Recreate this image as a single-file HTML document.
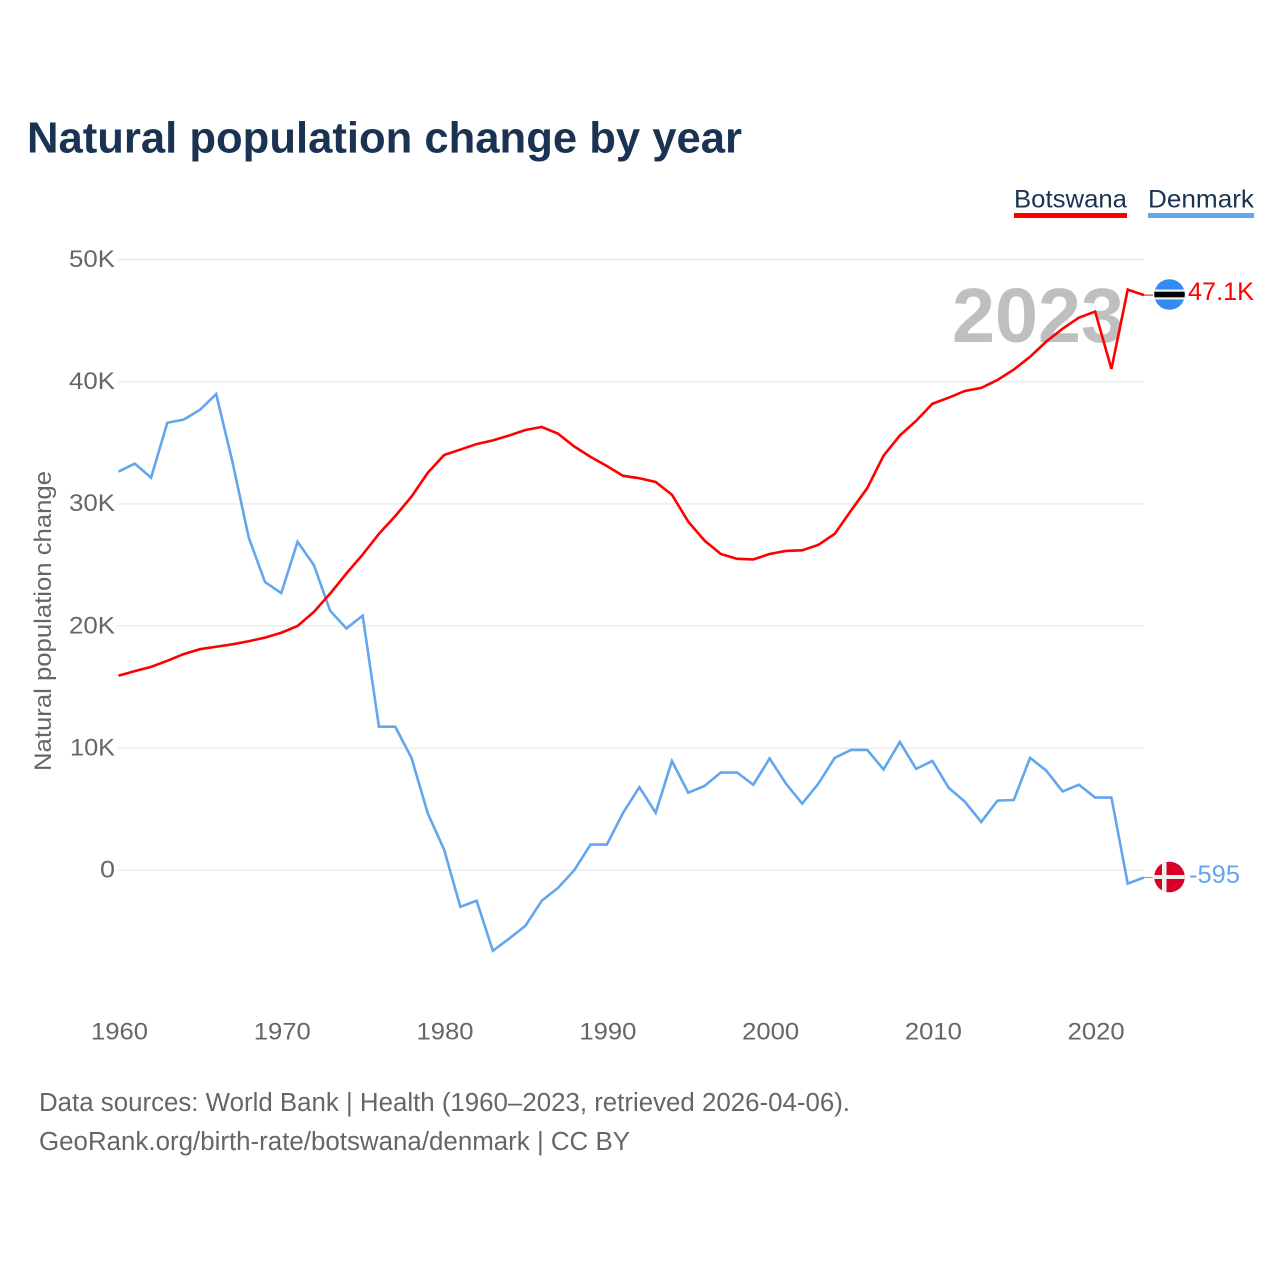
<!DOCTYPE html>
<html lang="en">
<head>
<meta charset="utf-8">
<title>Natural population change by year</title>
<style>
html,body{margin:0;padding:0;background:#fff;}
svg{display:block;font-family:"Liberation Sans",sans-serif;}
</style>
</head>
<body>
<svg id="chart" xmlns="http://www.w3.org/2000/svg" width="1280" height="1280" viewBox="0 0 1280 1280">
  <rect width="1280" height="1280" fill="#fff"/>
  <text x="27" y="152.5" font-size="44" font-weight="700" fill="#1a3352" textLength="715" lengthAdjust="spacingAndGlyphs">Natural population change by year</text>

  <g>
    <text x="1014" y="207.5" font-size="25" fill="#1a3352" textLength="113" lengthAdjust="spacingAndGlyphs">Botswana</text>
    <rect x="1014" y="213" width="113" height="5" fill="#ff0000"/>
  </g>
  <g>
    <text x="1148" y="207.5" font-size="25" fill="#1a3352" textLength="106" lengthAdjust="spacingAndGlyphs">Denmark</text>
    <rect x="1148" y="213" width="106" height="5" fill="#62a6ee"/>
  </g>

  <g id="grid"></g>
  <g id="yticks"></g>
  <g id="xticks"></g>

  <text transform="translate(51,621) rotate(-90)" text-anchor="middle" font-size="24" fill="#666" textLength="300" lengthAdjust="spacingAndGlyphs">Natural population change</text>

  <text x="952" y="342" font-size="77" font-weight="700" fill="#bfbfbf" textLength="172" lengthAdjust="spacingAndGlyphs">2023</text>

  <g id="series"></g>

  <g>
    <clipPath id="clip-bw"><circle cx="1169.5" cy="294.5" r="15.3"/></clipPath>
    <g clip-path="url(#clip-bw)">
      <rect x="1154" y="278" width="31" height="33" fill="#338af3"/>
      <rect x="1154" y="289.5" width="31" height="10" fill="#f0f0f0"/>
      <rect x="1154" y="291.7" width="31" height="5.6" fill="#000"/>
    </g>
  </g>
  <g>
    <clipPath id="clip-dk"><circle cx="1169.5" cy="877" r="15.3"/></clipPath>
    <g clip-path="url(#clip-dk)">
      <rect x="1154" y="861" width="31" height="32" fill="#d80027"/>
      <rect x="1154" y="875" width="31" height="4" fill="#f0f0f0"/>
      <rect x="1162" y="861" width="4.5" height="32" fill="#f0f0f0"/>
    </g>
  </g>

  <text x="1188" y="300" font-size="25" fill="#ff0000" textLength="66" lengthAdjust="spacingAndGlyphs">47.1K</text>
  <text x="1189" y="883" font-size="25" fill="#62a6ee" textLength="51" lengthAdjust="spacingAndGlyphs">-595</text>

  <text x="39" y="1111" font-size="25.5" fill="#666" textLength="811" lengthAdjust="spacingAndGlyphs">Data sources: World Bank | Health (1960–2023, retrieved 2026-04-06).</text>
  <text x="39" y="1150" font-size="25.5" fill="#666" textLength="591" lengthAdjust="spacingAndGlyphs">GeoRank.org/birth-rate/botswana/denmark | CC BY</text>
</svg>
<script>
const years = [1960,1961,1962,1963,1964,1965,1966,1967,1968,1969,1970,1971,1972,1973,1974,1975,1976,1977,1978,1979,1980,1981,1982,1983,1984,1985,1986,1987,1988,1989,1990,1991,1992,1993,1994,1995,1996,1997,1998,1999,2000,2001,2002,2003,2004,2005,2006,2007,2008,2009,2010,2011,2012,2013,2014,2015,2016,2017,2018,2019,2020,2021,2022,2023];
const botswana = [15930,16300,16650,17150,17700,18100,18300,18500,18750,19050,19450,20000,21150,22650,24300,25850,27550,29000,30600,32550,34000,34450,34900,35200,35600,36050,36300,35750,34700,33850,33100,32300,32100,31800,30750,28550,27000,25900,25500,25450,25900,26150,26200,26650,27550,29450,31300,33950,35600,36800,38200,38700,39250,39500,40150,41000,42050,43300,44350,45250,45750,41050,47550,47100];
const denmark = [32650,33300,32150,36650,36900,37700,39000,33450,27250,23600,22700,26900,25000,21250,19800,20850,11750,11750,9200,4650,1700,-3000,-2500,-6600,-5600,-4550,-2500,-1450,0,2100,2100,4700,6800,4700,8950,6350,6900,8000,8000,7000,9150,7100,5450,7100,9200,9850,9850,8250,10500,8300,8950,6750,5600,3950,5700,5750,9200,8150,6450,7000,5950,5950,-1100,-595];
const yTickValues = [0,10000,20000,30000,40000,50000];
const yTickLabels = ["0","10K","20K","30K","40K","50K"];
const yTickWidths = [15,45,46,46,46,46];
const xTickValues = [1960,1970,1980,1990,2000,2010,2020];

const NS = "http://www.w3.org/2000/svg";
const xScale = v => 118.5 + (v - 1960) * (1144 - 118.5) / 63;
const yScale = v => 870.2 - v * (870.2 - 259.7) / 50000;

function make(tag, attrs, parent) {
  const el = document.createElementNS(NS, tag);
  for (const k in attrs) el.setAttribute(k, attrs[k]);
  parent.appendChild(el);
  return el;
}

const grid = document.getElementById("grid");
const yG = document.getElementById("yticks");
const xG = document.getElementById("xticks");
const seriesG = document.getElementById("series");

yTickValues.forEach((v, i) => {
  const line = make("line", {x1: 118, x2: 1144, y1: yScale(v), y2: yScale(v), stroke: "#e9e9e9", "stroke-width": 1.3}, grid);
  
  
  const t = make("text", {x: 115 - yTickWidths[i], y: yScale(v) + 7.3, "font-size": 24.5, fill: "#666", textLength: yTickWidths[i], lengthAdjust: "spacingAndGlyphs"}, yG);
  
  
  t.textContent = yTickLabels[i];
});

xTickValues.forEach(v => {
  const t = make("text", {x: xScale(v) - 27.5, y: 1039.5, "font-size": 24.5, fill: "#666", textLength: 57, lengthAdjust: "spacingAndGlyphs"}, xG);
  
  
  t.textContent = v;
});

function drawSeries(values, color, name) {
  const pts = values.map((v, i) => xScale(years[i]).toFixed(2) + "," + yScale(v).toFixed(2)).join(" ");
  const line = make("polyline", {points: pts, fill: "none", stroke: color, "stroke-width": 2.6, "stroke-linejoin": "miter"}, seriesG);
  
  
  const last = values[values.length - 1];
  const conn = make("line", {x1: xScale(years[years.length - 1]), x2: 1153, y1: yScale(last), y2: yScale(last), stroke: color, "stroke-width": 1}, seriesG);
  
  
}
drawSeries(denmark, "#62a6ee", "line-denmark");
drawSeries(botswana, "#ff0000", "line-botswana");
</script>
</body>
</html>
